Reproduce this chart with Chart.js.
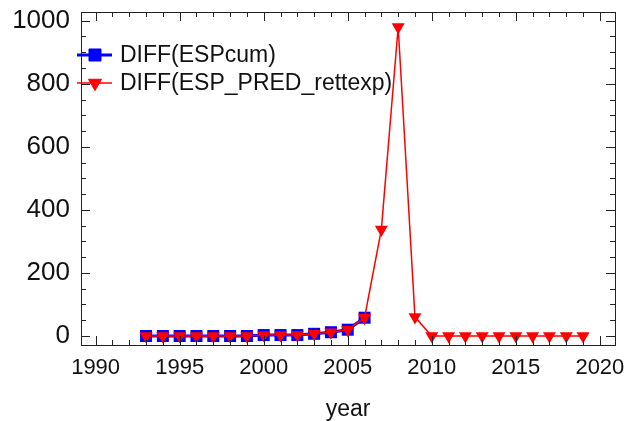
<!DOCTYPE html>
<html>
<head>
<meta charset="utf-8">
<script src="https://cdn.jsdelivr.net/npm/chart.js@4/dist/chart.umd.min.js"></script>
<style>
  html, body { margin: 0; padding: 0; background: #fff; }
  #wrap { width: 627px; height: 421px; }
</style>
</head>
<body>
<div id="wrap"><canvas id="diffChart" width="627" height="421"></canvas></div>
<script>
// yearly differences of cumulative and predicted series
const years = [1993, 1994, 1995, 1996, 1997, 1998, 1999, 2000, 2001, 2002, 2003, 2004, 2005, 2006,
               2007, 2008, 2009, 2010, 2011, 2012, 2013, 2014, 2015, 2016, 2017, 2018, 2019];
const espCum = [0, 0, 0, 0, 0, 0, 0, 3, 3, 3, 7, 12, 20, 58];
const espPredRettexp = [0, 0, 0, 0, 0, 0, 0, 3, 3, 3, 7, 12, 20, 58,
                        338, 980, 60, 0, 0, 0, 0, 0, 0, 0, 0, 0, 0];
const xTickLabels = [1990, 1995, 2000, 2005, 2010, 2015, 2020];
const yTickLabels = [0, 200, 400, 600, 800, 1000];

const legendLabels = ['DIFF(ESPcum)', 'DIFF(ESP_PRED_rettexp)'];
const FONT = '"Liberation Sans", Arial, sans-serif';

const toPoints = (vals) => vals.map((v, i) => ({ x: years[i], y: v }));

// box around the plot with small inward ticks on all four sides, plus the legend
const framePlugin = {
    id: 'frame',
    afterDraw(chart) {
        const ctx = chart.ctx;
        const a = chart.chartArea;
        const xs = chart.scales.x;
        const ys = chart.scales.y;
        ctx.save();
        ctx.strokeStyle = '#222';
        ctx.lineWidth = 1;
        ctx.strokeRect(a.left + 0.5, a.top + 0.5, a.right - a.left, a.bottom - a.top);

        ctx.beginPath();
        for (let yr = 1990; yr <= 2020; yr++) {
            const px = Math.round(xs.getPixelForValue(yr)) + 0.5;
            const len = yr % 5 === 0 ? 9 : 5;
            ctx.moveTo(px, a.bottom);
            ctx.lineTo(px, a.bottom - len);
            ctx.moveTo(px, a.top);
            ctx.lineTo(px, a.top + len);
        }
        for (let v = 0; v <= 1000; v += 50) {
            const py = Math.round(ys.getPixelForValue(v)) + 0.5;
            const len = v % 200 === 0 ? 9 : 5;
            ctx.moveTo(a.left, py);
            ctx.lineTo(a.left + len, py);
            ctx.moveTo(a.right, py);
            ctx.lineTo(a.right - len, py);
        }
        ctx.stroke();

        // legend in the upper left of the plot
        const sets = chart.data.datasets;
        const rows = [55, 83];
        sets.forEach((ds, i) => {
            const y = rows[i];
            ctx.strokeStyle = ds.borderColor;
            ctx.lineWidth = ds.borderWidth;
            ctx.beginPath();
            ctx.moveTo(77, y);
            ctx.lineTo(112, y);
            ctx.stroke();
            ctx.fillStyle = ds.pointBackgroundColor;
            ctx.strokeStyle = ds.pointBorderColor;
            ctx.lineWidth = 1;
            Chart.helpers.drawPoint(ctx, {
                pointStyle: ds.pointStyle,
                radius: ds.pointRadius,
                rotation: ds.pointRotation || 0,
                borderWidth: 1
            }, 95, y);
            ctx.fillStyle = '#111';
            ctx.font = '23px ' + FONT;
            ctx.textBaseline = 'middle';
            ctx.textAlign = 'left';
            ctx.fillText(legendLabels[i], 120, y + 1);
        });
        ctx.restore();
    }
};

new Chart(document.getElementById('diffChart').getContext('2d'), {
    type: 'line',
    data: {
        datasets: [{
            label: legendLabels[0],
            data: toPoints(espCum),
            borderColor: '#0000ff',
            backgroundColor: '#0000ff',
            borderWidth: 3,
            pointStyle: 'rect',
            pointRadius: 8.5,
            pointBackgroundColor: '#0000ff',
            pointBorderColor: '#0000ff',
            pointBorderWidth: 0,
            tension: 0,
            order: 2
        }, {
            label: legendLabels[1],
            data: toPoints(espPredRettexp),
            borderColor: '#ff0000',
            backgroundColor: '#ff0000',
            borderWidth: 1.5,
            pointStyle: 'triangle',
            pointRotation: 180,
            pointRadius: 7.5,
            pointBackgroundColor: '#ff0000',
            pointBorderColor: '#ff0000',
            pointBorderWidth: 0,
            tension: 0,
            order: 1
        }]
    },
    options: {
        responsive: false,
        animation: false,
        events: [],
        layout: { padding: { top: 12, right: 12, left: 0, bottom: 0 } },
        plugins: {
            legend: { display: false },
            tooltip: { enabled: false }
        },
        scales: {
            x: {
                type: 'linear',
                min: 1989.13,
                max: 2020.9,
                grid: { display: false, drawTicks: false },
                border: { display: false },
                afterFit(scale) {
                    scale.height = 76;
                    scale.paddingLeft = 0;
                    scale.paddingRight = 0;
                },
                afterBuildTicks(scale) {
                    scale.ticks = xTickLabels.map(v => ({ value: v }));
                },
                ticks: {
                    padding: 10,
                    color: '#111',
                    font: { family: FONT, size: 22 },
                    callback: v => String(v)
                },
                title: {
                    display: true,
                    text: 'year',
                    color: '#111',
                    font: { family: FONT, size: 23, lineHeight: 1 },
                    padding: { top: 0, bottom: 0 }
                }
            },
            y: {
                type: 'linear',
                min: -28.5,
                max: 1027.5,
                grid: { display: false, drawTicks: false },
                border: { display: false },
                afterFit(scale) {
                    scale.width = 81;
                    scale.paddingTop = 0;
                    scale.paddingBottom = 0;
                },
                afterBuildTicks(scale) {
                    scale.ticks = yTickLabels.map(v => ({ value: v }));
                },
                ticks: {
                    padding: 11,
                    color: '#111',
                    font: { family: FONT, size: 26 },
                    callback: v => String(v)
                }
            }
        }
    },
    plugins: [framePlugin]
});
</script>
</body>
</html>
